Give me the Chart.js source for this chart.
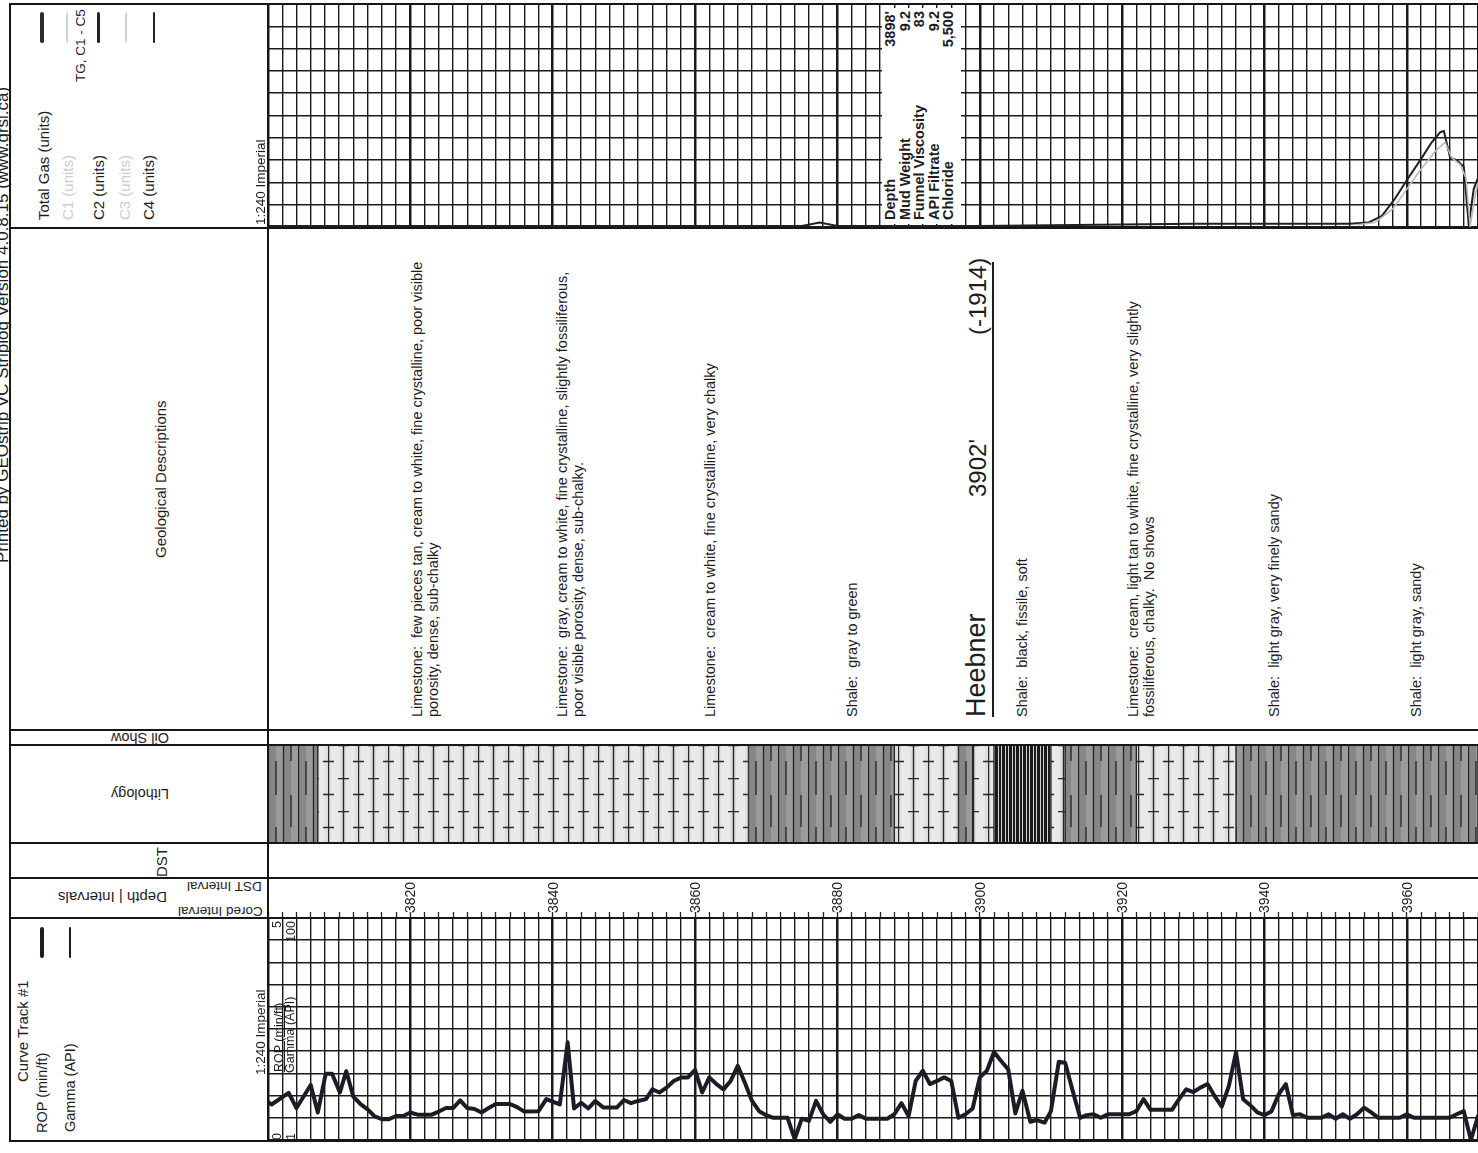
<!DOCTYPE html>
<html>
<head>
<meta charset="utf-8">
<title>Strip log</title>
<script src="https://cdn.jsdelivr.net/npm/chart.js@4.4.1/dist/chart.umd.min.js"></script>
<style>
  html, body { margin: 0; padding: 0; background: #fff; }
  body { position: relative; width: 1478px; height: 1153px; overflow: hidden;
         font-family: "Liberation Sans", Arial, sans-serif; color: #1d1d1d; }
  canvas { position: absolute; }
  .t { position: absolute; white-space: pre; line-height: 1; z-index: 3; }
  .rule { position: absolute; background: #161616; z-index: 5; }
  .leg { position: absolute; width: 0; z-index: 3; }
</style>
</head>
<body>
<canvas id="gasChart"></canvas>
<canvas id="lithChart"></canvas>
<canvas id="depthChart"></canvas>
<canvas id="curveChart"></canvas>
<script>
// Depth range shared by every track
const depthMin = 3800;
const depthMax = 3970;
const depthLabels = [3820, 3840, 3860, 3880, 3900, 3920, 3940, 3960];

// ROP (min/ft) - vertices
const ropDepth = [
  3800, 3800.5, 3802.9, 3804, 3806, 3807, 3808.1, 3809, 3810.1, 3811,
  3812, 3813, 3814, 3815, 3816, 3817, 3818, 3819, 3820, 3821,
  3823, 3824, 3825, 3826, 3827, 3828, 3829, 3830, 3831, 3832,
  3834, 3835, 3836, 3838, 3839.1, 3841, 3842.1, 3843, 3844, 3845,
  3846, 3847.1, 3849, 3850, 3851, 3852, 3853.1, 3854, 3855, 3856,
  3857, 3858.1, 3859, 3860, 3861, 3862, 3863, 3864, 3865, 3866,
  3867, 3868, 3869, 3870, 3871, 3873, 3874, 3875, 3876, 3877,
  3878, 3879, 3880, 3881, 3882, 3883, 3884, 3887, 3888, 3889,
  3890, 3891, 3892, 3893, 3894, 3895, 3896, 3897, 3898, 3899,
  3900, 3901, 3902, 3903, 3904, 3905, 3906, 3907.1, 3908, 3909.1,
  3910, 3911.1, 3912, 3913, 3914.1, 3915, 3916, 3917, 3918, 3921,
  3922, 3923, 3924, 3927, 3928, 3929, 3930, 3931, 3932, 3933,
  3934, 3935, 3936, 3937, 3938.1, 3939, 3940, 3941, 3942, 3943,
  3944, 3945, 3946, 3948, 3949, 3950, 3951, 3952, 3953, 3954,
  3955, 3956, 3959, 3960, 3961, 3966, 3967, 3968, 3969, 3970
];
const ropValue = [
  0.86, 0.80, 1.06, 0.72, 1.24, 0.62, 1.49, 1.49, 1.07, 1.55,
  0.97, 0.81, 0.69, 0.53, 0.47, 0.47, 0.54, 0.54, 0.62, 0.57,
  0.57, 0.64, 0.72, 0.72, 0.89, 0.72, 0.70, 0.62, 0.72, 0.81,
  0.81, 0.74, 0.64, 0.65, 0.92, 0.80, 2.20, 0.71, 0.84, 0.71,
  0.88, 0.73, 0.73, 0.90, 0.83, 0.88, 0.92, 1.14, 1.07, 1.18,
  1.33, 1.41, 1.41, 1.58, 1.07, 1.41, 1.26, 1.14, 1.33, 1.67,
  1.29, 0.88, 0.65, 0.56, 0.50, 0.50, 0.02, 0.48, 0.43, 0.88,
  0.58, 0.41, 0.58, 0.48, 0.48, 0.56, 0.48, 0.48, 0.58, 0.83,
  0.54, 1.33, 1.56, 1.26, 1.33, 1.41, 1.33, 0.50, 0.58, 0.71,
  1.41, 1.56, 1.98, 1.78, 1.59, 0.60, 1.11, 0.41, 0.45, 0.39,
  0.65, 1.76, 1.74, 1.14, 0.50, 0.56, 0.58, 0.50, 0.58, 0.58,
  0.65, 0.92, 0.68, 0.68, 0.92, 1.14, 1.08, 1.18, 1.26, 0.99,
  0.75, 1.22, 1.98, 0.92, 0.77, 0.62, 0.56, 0.65, 1.03, 1.26,
  0.56, 0.58, 0.50, 0.50, 0.58, 0.48, 0.58, 0.48, 0.58, 0.73,
  0.62, 0.50, 0.50, 0.58, 0.50, 0.50, 0.58, 0.65, 0.00, 0.54
];

// Gas track (units, 0-100 across the track)
const gasDepth = [3800, 3830, 3860, 3875, 3877.5, 3880, 3900, 3930, 3952, 3954.6, 3956.5, 3958.4,
  3960.2, 3962.1, 3963.5, 3964.7, 3965.2, 3966.1, 3967, 3968, 3968.7, 3969.4, 3970];
const gasTotal = [0.5, 0.5, 0.5, 0.5, 2, 0.5, 0.5, 1.5, 1.5, 2, 5, 13,
  22, 31, 38, 42.5, 43, 31, 30, 27, 1, 17, 22];
const c1Depth = [3953, 3955.5, 3958, 3960, 3962, 3964, 3965.4, 3966.3, 3967.5, 3968.3, 3968.9, 3969.6, 3970];
const c1Value = [1, 2, 8, 17, 26, 34, 38, 31, 28, 22, 0.5, 14, 20];

// Lithology intervals
const lithTop  = [3800, 3807, 3867.5, 3888, 3897, 3899, 3902, 3910, 3912, 3922, 3936];
const lithBase = [3807, 3867.5, 3888, 3897, 3899, 3902, 3910, 3912, 3922, 3936, 3970];
const lithType = ['shale', 'limestone', 'shale', 'limestone', 'shale', 'limestone',
  'blackShale', 'limestone', 'shale', 'limestone', 'shale'];

// Geological descriptions (depth of the first line)
const descDepth = [3820.9, 3841.3, 3862.1, 3882.0, 3905.9, 3921.5, 3941.3, 3961.3];
const descText = [
  'Limestone:  few pieces tan, cream to white, fine crystalline, poor visible\nporosity, dense, sub-chalky',
  'Limestone:  gray, cream to white, fine crystalline, slightly fossiliferous,\npoor visible porosity, dense, sub-chalky.',
  'Limestone:  cream to white, fine crystalline, very chalky',
  'Shale:  gray to green',
  'Shale:  black, fissile, soft',
  'Limestone:  cream, light tan to white, fine crystalline, very slightly\nfossiliferous, chalky.  No shows',
  'Shale:  light gray, very finely sandy',
  'Shale:  light gray, sandy'
];

// Formation top
const topDepth = 3902;
const topParts = ['Heebner', "3902'", '(-1914)'];

// Mud report
const mudFrom = 3886.3, mudTo = 3897.4;
const mudLabels = ['Depth', 'Mud Weight', 'Funnel Viscosity', 'API Filtrate', 'Chloride'];
const mudValues = ["3898'", '9.2', '83', '9.2', '5,500'];

// ---- layout ----
const plotLeft = 268, plotWidth = 1210;

function setCanvas(id, top, height) {
  const c = document.getElementById(id);
  c.width = plotWidth; c.height = height;
  c.style.left = plotLeft + 'px'; c.style.top = top + 'px';
  return c.getContext('2d');
}

function baseOptions(scales) {
  return {
    responsive: false, animation: false, events: [],
    layout: { padding: 0 },
    plugins: { legend: { display: false }, tooltip: { enabled: false } },
    scales: scales
  };
}

function gridScales(yMax, yStep) {
  return {
    x: {
      type: 'linear', min: depthMin, max: depthMax,
      ticks: { display: false, stepSize: 2, autoSkip: false },
      grid: { drawTicks: false, color: '#1a1a1a',
              lineWidth: c => (c.tick && c.tick.value % 20 === 0) ? 2.5 : 1.4 },
      border: { display: false }
    },
    y: {
      type: 'linear', min: 0, max: yMax,
      ticks: { display: false, stepSize: yStep },
      grid: { drawTicks: false, color: '#1a1a1a', lineWidth: 1.5 },
      border: { display: false }
    }
  };
}

const pts = (xs, ys) => xs.map((x, i) => ({ x: x, y: ys[i] }));

// Gas track
const gasChart = new Chart(setCanvas('gasChart', 4, 223), {
  type: 'line',
  data: {
    datasets: [
      { data: pts(c1Depth, c1Value), borderColor: '#b9b9b9', borderWidth: 1.6, pointRadius: 0, tension: 0, clip: 3 },
      { data: pts(gasDepth, gasTotal), borderColor: '#202020', borderWidth: 2, pointRadius: 0, tension: 0, clip: 3 }
    ]
  },
  options: baseOptions(gridScales(100, 10))
});

// Lithology patterns
function makePattern(type) {
  const c = document.createElement('canvas');
  const g = c.getContext('2d');
  if (type === 'limestone') {
    c.width = 30; c.height = 33;
    g.fillStyle = '#dedede'; g.fillRect(0, 0, 30, 33);
    g.fillStyle = '#e9e9e9'; g.fillRect(3, 0, 9, 33); g.fillRect(18, 0, 9, 33);
    g.strokeStyle = '#262626'; g.lineWidth = 1.4;
    g.beginPath();
    g.moveTo(0.5, 0); g.lineTo(0.5, 33);
    g.moveTo(15.5, 0); g.lineTo(15.5, 33);
    g.moveTo(0, 16.5); g.lineTo(6, 16.5); g.moveTo(25, 16.5); g.lineTo(30, 16.5);
    g.moveTo(10, 0.5); g.lineTo(21, 0.5);
    g.stroke();
  } else if (type === 'shale') {
    c.width = 30; c.height = 66;
    g.fillStyle = '#9b9b9b'; g.fillRect(0, 0, 30, 66);
    g.fillStyle = '#878787'; g.fillRect(0, 0, 8, 66); g.fillRect(15, 0, 8, 66);
    g.strokeStyle = '#222'; g.lineWidth = 1.3;
    g.beginPath();
    g.moveTo(0.5, 0); g.lineTo(0.5, 66);
    g.moveTo(15.5, 0); g.lineTo(15.5, 66);
    g.moveTo(8, 16); g.lineTo(8, 50);
    g.moveTo(23, 0); g.lineTo(23, 16); g.moveTo(23, 50); g.lineTo(23, 66);
    g.stroke();
  } else {
    c.width = 14; c.height = 20;
    g.fillStyle = '#1b1b1b'; g.fillRect(0, 0, 14, 20);
    g.strokeStyle = '#e8e8e8'; g.lineWidth = 0.9;
    g.beginPath();
    [2.5, 5.5, 9.5, 12.5].forEach(x => { g.moveTo(x, 0); g.lineTo(x, 20); });
    g.stroke();
  }
  return g.createPattern(c, 'repeat');
}
const patterns = { limestone: makePattern('limestone'), shale: makePattern('shale'), blackShale: makePattern('blackShale') };

new Chart(setCanvas('lithChart', 745, 98), {
  type: 'bar',
  data: {
    labels: ['Lithology'],
    datasets: [{
      data: lithTop.map((t, i) => ({ x: [t, lithBase[i]], y: 'Lithology' })),
      backgroundColor: lithType.map(t => patterns[t]),
      borderColor: '#222', borderWidth: 1, borderSkipped: false,
      barPercentage: 1, categoryPercentage: 1
    }]
  },
  options: Object.assign(baseOptions({
    x: { type: 'linear', min: depthMin, max: depthMax, display: false },
    y: { display: false }
  }), { indexAxis: 'y' })
});

// Depth track - tick marks every 2 ft
new Chart(setCanvas('depthChart', 878, 40), {
  type: 'scatter',
  data: { datasets: [{ data: [] }] },
  options: baseOptions({
    x: {
      type: 'linear', min: depthMin, max: depthMax,
      ticks: { display: false, stepSize: 2, autoSkip: false },
      grid: { drawOnChartArea: false, drawTicks: true, tickLength: 6, tickColor: '#222', tickWidth: 1.3 },
      border: { display: false }
    },
    y: { display: false }
  })
});

// Curve track #1 - ROP
new Chart(setCanvas('curveChart', 918, 222), {
  type: 'line',
  data: {
    datasets: [{
      data: pts(ropDepth, ropValue), borderColor: '#1c1c26', borderWidth: 4,
      borderJoinStyle: 'round', borderCapStyle: 'round', pointRadius: 0, tension: 0, clip: 6
    }]
  },
  options: baseOptions(gridScales(5, 0.5))
});

const depthX = d => plotLeft + gasChart.scales.x.getPixelForValue(d);

// ---- text helpers ----
function vtext(str, x, y, o) {
  o = o || {};
  const d = document.createElement('div');
  d.className = 't';
  const size = o.size || 13;
  const lh = o.lh || Math.round(size * 1.15);
  d.style.fontSize = size + 'px';
  d.style.lineHeight = lh + 'px';
  if (o.bold) d.style.fontWeight = 'bold';
  if (o.color) d.style.color = o.color;
  if (o.underline) d.style.textDecoration = 'underline';
  d.textContent = str;
  document.body.appendChild(d);
  const w = d.offsetWidth;
  const anchor = o.anchor || 'start';
  const top = anchor === 'start' ? y : anchor === 'end' ? y + w : y + w / 2;
  d.style.left = (x - lh / 2) + 'px';
  d.style.top = top + 'px';
  d.style.transformOrigin = '0 0';
  d.style.transform = 'rotate(-90deg)';
  return d;
}

function flipText(str, cx, cy, size) {
  const d = document.createElement('div');
  d.className = 't';
  d.style.fontSize = size + 'px';
  d.textContent = str;
  document.body.appendChild(d);
  d.style.left = (cx - d.offsetWidth / 2) + 'px';
  d.style.top = (cy - d.offsetHeight / 2) + 'px';
  d.style.transform = 'rotate(180deg)';
  return d;
}

function legLine(x, y1, y2, width, color, style) {
  const d = document.createElement('div');
  d.className = 'leg';
  d.style.left = (x - width / 2) + 'px';
  d.style.top = y1 + 'px';
  d.style.height = (y2 - y1) + 'px';
  d.style.borderLeft = width + 'px ' + (style || 'solid') + ' ' + color;
  d.style.borderRadius = '2px';
  document.body.appendChild(d);
}

// ---- frame ----
[[9, 3, 1469, 2], [9, 1140, 1469, 2], [9, 3, 2, 1139], [267, 3, 2, 1139],
 [9, 227, 1469, 2], [9, 729, 1469, 2], [9, 744, 1469, 2], [9, 842, 1469, 2],
 [9, 877, 1469, 2], [9, 917, 1469, 2]].forEach(r => {
  const d = document.createElement('div');
  d.className = 'rule';
  d.style.left = r[0] + 'px'; d.style.top = r[1] + 'px';
  d.style.width = r[2] + 'px'; d.style.height = r[3] + 'px';
  document.body.appendChild(d);
});

vtext('Printed by GEOstrip VC Striplog Version 4.0.8.15 (www.grsi.ca)', 3, 563, { size: 17, underline: true });

// gas header
vtext('TG, C1 - C5', 81, 82, { size: 13.5 });
vtext('Total Gas (units)', 43, 220, { size: 15 });
vtext('C1 (units)', 67, 220, { size: 15, color: '#cdcdcd' });
vtext('C2 (units)', 98, 220, { size: 15 });
vtext('C3 (units)', 124, 220, { size: 15, color: '#cdcdcd' });
vtext('C4 (units)', 148, 220, { size: 15 });
vtext('1:240 Imperial', 261, 225, { size: 13.5 });
legLine(42, 12, 43, 4, '#2a2a2a');
legLine(67, 12, 43, 2, '#cfcfcf', 'dashed');
legLine(98, 12, 43, 3, '#222');
legLine(126, 12, 43, 2, '#cfcfcf', 'dashed');
legLine(154, 12, 43, 2.5, '#222');

// other headers
vtext('Geological Descriptions', 160, 479, { size: 15, anchor: 'middle' });
flipText('Oil Show', 140, 737, 14.5);
flipText('Lithology', 140, 793, 14.5);
vtext('DST', 161, 862, { size: 15, anchor: 'middle' });
flipText('Depth | Intervals', 112, 897, 15);
flipText('DST Interval', 224, 886, 13.5);
flipText('Cored Interval', 220, 911, 13.5);

// curve track header
vtext('Curve Track #1', 22, 1082, { size: 15 });
vtext('ROP (min/ft)', 42, 1133, { size: 14.5 });
vtext('Gamma (API)', 70, 1132, { size: 14.5 });
legLine(42, 927, 958, 4.5, '#1c1c26');
legLine(70, 927, 958, 2, '#1c1c26');
vtext('1:240 Imperial', 261, 1075, { size: 13.5 });

// curve scale labels inside the track
vtext('ROP (min/ft)', 279, 1072, { size: 12.5, underline: true });
vtext('Gamma (API)', 290, 1073, { size: 12.5 });
vtext('5', 277, 921, { size: 12.5, anchor: 'end' });
vtext('100', 291, 921, { size: 12.5, anchor: 'end' });
vtext('0', 277, 1140, { size: 12.5 });
vtext('1', 291, 1140, { size: 12.5 });

// depth labels
depthLabels.forEach(d => vtext(String(d), depthX(d), 913, { size: 14 }));

// descriptions
descDepth.forEach((d, i) => vtext(descText[i], depthX(d), 717, { size: 14.5, lh: 16 }));

// formation top
(function () {
  const box = document.createElement('div');
  box.className = 't';
  const len = 455, h = 33;
  box.style.width = len + 'px';
  box.style.height = (h - 2) + 'px';
  box.style.borderBottom = '2px solid #1d1d1d';
  const ux = depthX(topDepth);
  box.style.left = (ux - h) + 'px';
  box.style.top = '717px';
  box.style.transformOrigin = '0 0';
  box.style.transform = 'rotate(-90deg)';
  [[0, 27], [220, 24], [382, 24]].forEach((p, i) => {
    const s = document.createElement('span');
    s.textContent = topParts[i];
    s.style.position = 'absolute';
    s.style.left = p[0] + 'px';
    s.style.bottom = '2px';
    s.style.fontSize = p[1] + 'px';
    box.appendChild(s);
  });
  document.body.appendChild(box);
})();

// mud report box
(function () {
  const x1 = depthX(mudFrom), x2 = depthX(mudTo);
  const bg = document.createElement('div');
  bg.style.position = 'absolute';
  bg.style.background = '#fff';
  bg.style.zIndex = 2;
  bg.style.left = x1 + 'px'; bg.style.top = '8px';
  bg.style.width = (x2 - x1) + 'px'; bg.style.height = '216px';
  document.body.appendChild(bg);
  mudLabels.forEach((lab, i) => {
    const d = document.createElement('div');
    d.className = 't';
    d.style.width = '209px';
    d.style.fontSize = '14.5px';
    d.style.fontWeight = 'bold';
    d.style.lineHeight = '15px';
    d.style.display = 'flex';
    d.style.justifyContent = 'space-between';
    d.innerHTML = '<span></span><span></span>';
    d.children[0].textContent = lab;
    d.children[1].textContent = mudValues[i];
    d.style.left = (x1 + 1 + i * 14.5) + 'px';
    d.style.top = '220px';
    d.style.transformOrigin = '0 0';
    d.style.transform = 'rotate(-90deg)';
    document.body.appendChild(d);
  });
})();
</script>
</body>
</html>
